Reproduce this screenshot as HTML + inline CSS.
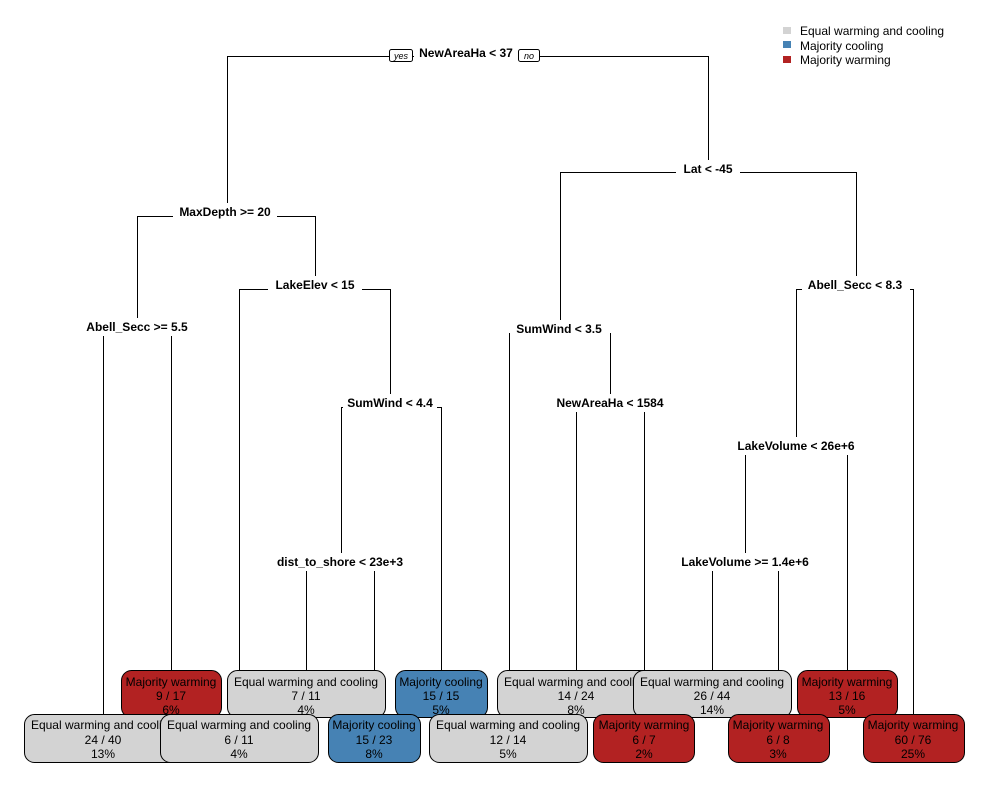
<!DOCTYPE html>
<html><head><meta charset="utf-8"><style>
html,body{margin:0;padding:0;background:#fff;}
svg{display:block;font-family:"Liberation Sans",Arial,sans-serif;}
.n{font-weight:bold;font-size:12px;text-anchor:middle;}
.b{font-size:12px;text-anchor:middle;fill:#000;}
.l{font-size:12px;fill:#000;}
</style></head><body>
<svg width="1000" height="800" viewBox="0 0 1000 800">
<g stroke="#000" stroke-width="1" fill="none">
<!-- NewAreaHa<37 y56 -->
<path d="M227.5 212V56.5H708.5V169"/>
<!-- MaxDepth y216 -->
<path d="M137.5 327V216.5H315.5V285"/>
<!-- Abell>=5.5 y331 -->
<path d="M103.5 714V331.5H171.5V670"/>
<!-- LakeElev y289 -->
<path d="M239.5 714V289.5H390.5V403"/>
<!-- SumWind<4.4 y407 -->
<path d="M341.5 562V407.5H441.5V670"/>
<!-- dist y566 -->
<path d="M306.5 670V566.5H374.5V714"/>
<!-- Lat y172 -->
<path d="M560.5 329V172.5H856.5V285"/>
<!-- SumWind<3.5 y333 -->
<path d="M509.5 714V333.5H610.5V403"/>
<!-- NewAreaHa<1584 y407 -->
<path d="M576.5 670V407.5H644.5V714"/>
<!-- Abell<8.3 y289 -->
<path d="M796.5 446V289.5H913.5V714"/>
<!-- LakeVolume<26e6 y450 -->
<path d="M745.5 562V450.5H847.5V670"/>
<!-- LakeVolume>=1.4e6 y566 -->
<path d="M712.5 670V566.5H778.5V714"/>
</g>
<!-- node labels with white backgrounds -->
<g fill="#fff">
<rect x="414" y="44" width="104" height="18"/>
<rect x="173" y="203" width="104" height="18"/>
<rect x="79" y="318" width="116" height="18"/>
<rect x="268" y="276" width="94" height="18"/>
<rect x="343" y="394" width="94" height="18"/>
<rect x="271" y="553" width="138" height="18"/>
<rect x="676" y="160" width="64" height="18"/>
<rect x="510" y="320" width="100" height="18"/>
<rect x="551" y="394" width="118" height="18"/>
<rect x="802" y="276" width="108" height="18"/>
<rect x="731" y="437" width="130" height="18"/>
<rect x="674" y="553" width="142" height="18"/>
</g>
<g class="n">
<text x="466" y="57">NewAreaHa &lt; 37</text>
<text x="225" y="216">MaxDepth &gt;= 20</text>
<text x="137" y="331">Abell_Secc &gt;= 5.5</text>
<text x="315" y="289">LakeElev &lt; 15</text>
<text x="390" y="407">SumWind &lt; 4.4</text>
<text x="340" y="566">dist_to_shore &lt; 23e+3</text>
<text x="708" y="173">Lat &lt; -45</text>
<text x="559" y="333">SumWind &lt; 3.5</text>
<text x="610" y="407">NewAreaHa &lt; 1584</text>
<text x="855" y="289">Abell_Secc &lt; 8.3</text>
<text x="796" y="450">LakeVolume &lt; 26e+6</text>
<text x="745" y="566">LakeVolume &gt;= 1.4e+6</text>
</g>
<!-- yes/no -->
<g stroke="#000" fill="#fff"><rect x="389.5" y="49.5" width="23" height="12" rx="2"/><rect x="518.5" y="49.5" width="21" height="12" rx="2"/></g>
<g font-size="9" font-style="italic" text-anchor="middle"><text x="401" y="59">yes</text><text x="529" y="59">no</text></g>
<!-- legend -->
<rect x="783" y="27" width="8" height="7" fill="#d3d3d3"/>
<rect x="783" y="41" width="8" height="7" fill="#4682b4"/>
<rect x="783" y="56" width="8" height="7" fill="#b22222"/>
<text class="l" x="800" y="35">Equal warming and cooling</text>
<text class="l" x="800" y="50">Majority cooling</text>
<text class="l" x="800" y="64">Majority warming</text>
<!-- top row leaves -->
<g stroke="#000" stroke-width="1">
<rect x="121.5" y="670.5" width="100" height="47" rx="10" fill="#b22222"/>
</g>
<g class="b"><text x="171" y="686">Majority warming</text><text x="171" y="700">9 / 17</text><text x="171" y="714">6%</text></g>
<rect x="227.5" y="670.5" width="158" height="47" rx="10" fill="#d3d3d3" stroke="#000"/>
<g class="b"><text x="306" y="686">Equal warming and cooling</text><text x="306" y="700">7 / 11</text><text x="306" y="714">4%</text></g>
<rect x="395.5" y="670.5" width="92" height="47" rx="10" fill="#4682b4" stroke="#000"/>
<g class="b"><text x="441" y="686">Majority cooling</text><text x="441" y="700">15 / 15</text><text x="441" y="714">5%</text></g>
<rect x="497.5" y="670.5" width="158" height="47" rx="10" fill="#d3d3d3" stroke="#000"/>
<g class="b"><text x="576" y="686">Equal warming and cooling</text><text x="576" y="700">14 / 24</text><text x="576" y="714">8%</text></g>
<rect x="633.5" y="670.5" width="158" height="47" rx="10" fill="#d3d3d3" stroke="#000"/>
<g class="b"><text x="712" y="686">Equal warming and cooling</text><text x="712" y="700">26 / 44</text><text x="712" y="714">14%</text></g>
<rect x="797.5" y="670.5" width="100" height="47" rx="10" fill="#b22222" stroke="#000"/>
<g class="b"><text x="847" y="686">Majority warming</text><text x="847" y="700">13 / 16</text><text x="847" y="714">5%</text></g>
<!-- bottom row -->
<rect x="24.5" y="714.5" width="158" height="48" rx="10" fill="#d3d3d3" stroke="#000"/>
<g class="b"><text x="103" y="729">Equal warming and cooling</text><text x="103" y="744">24 / 40</text><text x="103" y="758">13%</text></g>
<rect x="160.5" y="714.5" width="158" height="48" rx="10" fill="#d3d3d3" stroke="#000"/>
<g class="b"><text x="239" y="729">Equal warming and cooling</text><text x="239" y="744">6 / 11</text><text x="239" y="758">4%</text></g>
<rect x="328.5" y="714.5" width="92" height="48" rx="10" fill="#4682b4" stroke="#000"/>
<g class="b"><text x="374" y="729">Majority cooling</text><text x="374" y="744">15 / 23</text><text x="374" y="758">8%</text></g>
<rect x="429.5" y="714.5" width="158" height="48" rx="10" fill="#d3d3d3" stroke="#000"/>
<g class="b"><text x="508" y="729">Equal warming and cooling</text><text x="508" y="744">12 / 14</text><text x="508" y="758">5%</text></g>
<rect x="593.5" y="714.5" width="101" height="48" rx="10" fill="#b22222" stroke="#000"/>
<g class="b"><text x="644" y="729">Majority warming</text><text x="644" y="744">6 / 7</text><text x="644" y="758">2%</text></g>
<rect x="728.5" y="714.5" width="101" height="48" rx="10" fill="#b22222" stroke="#000"/>
<g class="b"><text x="778" y="729">Majority warming</text><text x="778" y="744">6 / 8</text><text x="778" y="758">3%</text></g>
<rect x="863.5" y="714.5" width="101" height="48" rx="10" fill="#b22222" stroke="#000"/>
<g class="b"><text x="913" y="729">Majority warming</text><text x="913" y="744">60 / 76</text><text x="913" y="758">25%</text></g>
</svg>
</body></html>
